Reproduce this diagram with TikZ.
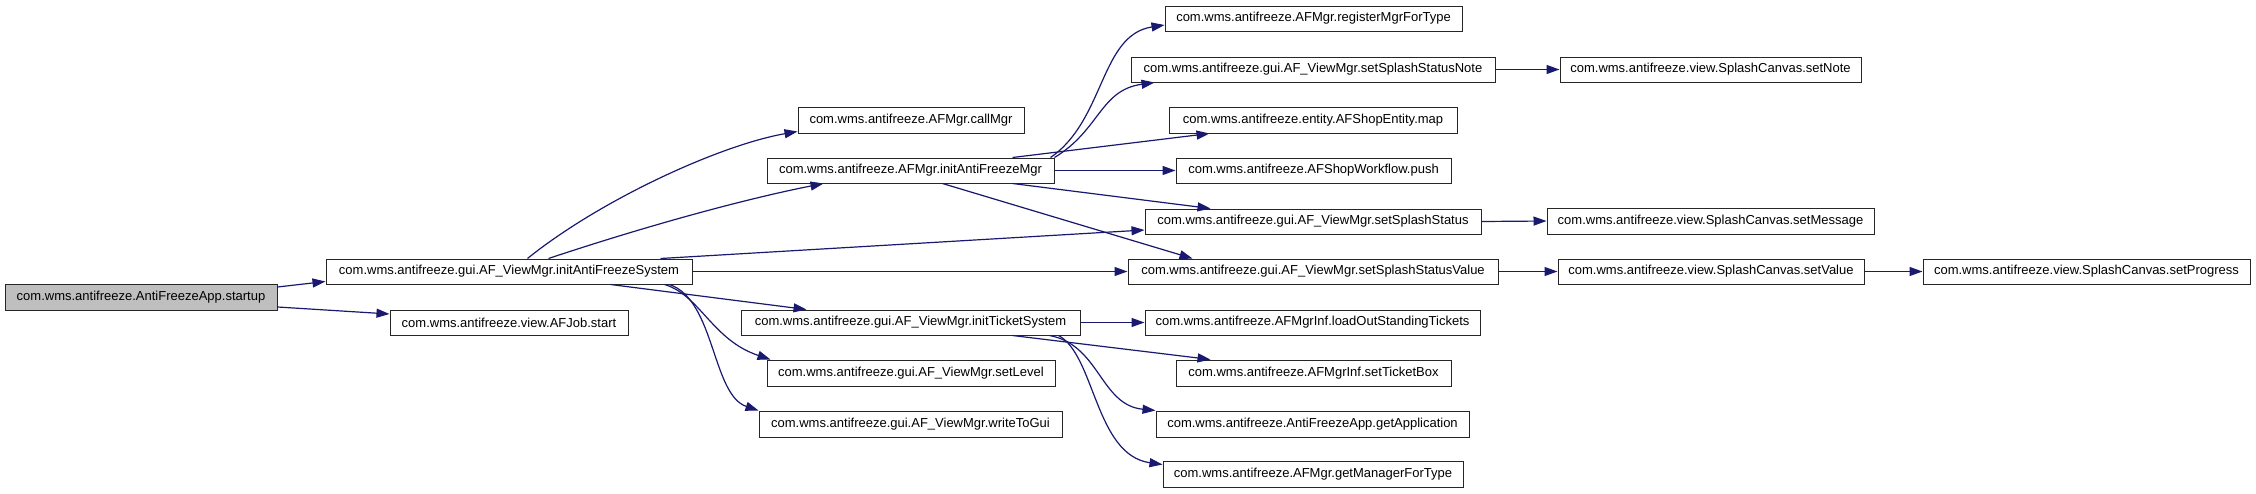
\documentclass[tikz,border=0pt]{standalone}
\usepackage{fontspec}
\setmainfont{Liberation Sans}
\usetikzlibrary{arrows.meta}
\definecolor{edgeblue}{RGB}{25,25,112}
\definecolor{rootgray}{RGB}{191,191,191}
\tikzset{
  fn/.style={draw=black!85, line width=1pt, fill=white, inner sep=0pt, minimum height=25pt,
    font=\fontsize{13}{15}\selectfont, text=black},
  root/.style={fn, fill=rootgray},
  call/.style={draw=edgeblue, line width=1.2pt, -{Triangle[length=13pt,width=9pt]}},
}
\begin{document}
\begin{tikzpicture}[x=1pt,y=-1pt]
\useasboundingbox[fill=white] (0,0) rectangle (2256,493);
% column 0
\node[root, minimum width=272pt, minimum height=26pt] (startup) at (141,297) {com.wms.antifreeze.AntiFreezeApp.startup};
% column 1
\node[fn, minimum width=366pt] (initAFS) at (509,271.5) {com.wms.antifreeze.gui.AF\_ViewMgr.initAntiFreezeSystem};
\node[fn, minimum width=238pt] (afjob) at (509,322.5) {com.wms.antifreeze.view.AFJob.start};
% column 2
\node[fn, minimum width=226pt, minimum height=26pt] (callMgr) at (911,120) {com.wms.antifreeze.AFMgr.callMgr};
\node[fn, minimum width=287pt] (initAFMgr) at (910.5,170.5) {com.wms.antifreeze.AFMgr.initAntiFreezeMgr};
\node[fn, minimum width=339pt] (initTicket) at (910.5,322.5) {com.wms.antifreeze.gui.AF\_ViewMgr.initTicketSystem};
\node[fn, minimum width=288pt, minimum height=26pt] (setLevel) at (911,373) {com.wms.antifreeze.gui.AF\_ViewMgr.setLevel};
\node[fn, minimum width=303pt, minimum height=26pt] (writeToGui) at (910.5,424) {com.wms.antifreeze.gui.AF\_ViewMgr.writeToGui};
% column 3
\node[fn, minimum width=297pt] (register) at (1313.5,18.5) {com.wms.antifreeze.AFMgr.registerMgrForType};
\node[fn, minimum width=364pt] (ssNote) at (1313,69.5) {com.wms.antifreeze.gui.AF\_ViewMgr.setSplashStatusNote};
\node[fn, minimum width=288pt, minimum height=26pt] (map) at (1313,120) {com.wms.antifreeze.entity.AFShopEntity.map};
\node[fn, minimum width=275pt] (push) at (1313.5,170.5) {com.wms.antifreeze.AFShopWorkflow.push};
\node[fn, minimum width=336pt] (ss) at (1313,221.5) {com.wms.antifreeze.gui.AF\_ViewMgr.setSplashStatus};
\node[fn, minimum width=370pt] (ssValue) at (1313,271.5) {com.wms.antifreeze.gui.AF\_ViewMgr.setSplashStatusValue};
\node[fn, minimum width=335pt] (load) at (1312.5,322.5) {com.wms.antifreeze.AFMgrInf.loadOutStandingTickets};
\node[fn, minimum width=275pt, minimum height=26pt] (ticketBox) at (1313.5,373) {com.wms.antifreeze.AFMgrInf.setTicketBox};
\node[fn, minimum width=313pt, minimum height=26pt] (getApp) at (1312.5,424) {com.wms.antifreeze.AntiFreezeApp.getApplication};
\node[fn, minimum width=300pt, minimum height=26pt] (getMgr) at (1313,474) {com.wms.antifreeze.AFMgr.getManagerForType};
% column 4
\node[fn, minimum width=301pt] (setNote) at (1710.5,69.5) {com.wms.antifreeze.view.SplashCanvas.setNote};
\node[fn, minimum width=327pt, minimum height=26pt] (setMessage) at (1710.5,221) {com.wms.antifreeze.view.SplashCanvas.setMessage};
\node[fn, minimum width=306pt] (setValue) at (1711,271.5) {com.wms.antifreeze.view.SplashCanvas.setValue};
% column 5
\node[fn, minimum width=327pt] (setProgress) at (2086.5,271.5) {com.wms.antifreeze.view.SplashCanvas.setProgress};

% edges from startup
\draw[call] ([yshift=10pt]startup.east) -- ([yshift=3pt]initAFS.south west);
\draw[call] ([yshift=-10pt]startup.east) -- ([yshift=8.5pt]afjob.west);
% edges from initAntiFreezeSystem
\draw[call] ([xshift=202pt]initAFS.north west) .. controls (600,200) and (720,145) .. ([yshift=2pt]callMgr.south west);
\draw[call] ([xshift=223pt]initAFS.north west) .. controls (640,228) and (740,200) .. ([xshift=57pt]initAFMgr.south west);
\draw[call] ([xshift=335pt]initAFS.north west) -- ([yshift=-8.5pt]ss.west);
\draw[call] (initAFS.east) -- (ssValue.west);
\draw[call] ([xshift=285pt]initAFS.south west) -- ([xshift=66pt]initTicket.north west);
\draw[call] ([xshift=339pt]initAFS.south west) .. controls (700,295) and (712,340) .. ([xshift=4pt]setLevel.north west);
\draw[call] ([xshift=344pt]initAFS.south west) .. controls (715,300) and (712,395) .. (writeToGui.north west);
% edges from initAntiFreezeMgr
\draw[call] ([xshift=-4pt]initAFMgr.north east) .. controls (1105,120) and (1100,35) .. ([yshift=-6.5pt]register.west);
\draw[call] (initAFMgr.north east) .. controls (1100,130) and (1100,90) .. ([xshift=24pt]ssNote.south west);
\draw[call] ([xshift=246pt]initAFMgr.north west) -- ([xshift=41pt]map.south west);
\draw[call] (initAFMgr.east) -- (push.west);
\draw[call] ([xshift=246pt]initAFMgr.south west) -- ([xshift=66pt]ss.north west);
\draw[call] ([xshift=176pt]initAFMgr.south west) -- ([xshift=65pt]ssValue.north west);
% splash edges
\draw[call] (ssNote.east) -- (setNote.west);
\draw[call] (ss.east) -- (setMessage.west);
\draw[call] (ssValue.east) -- (setValue.west);
\draw[call] (setValue.east) -- (setProgress.west);
% edges from initTicketSystem
\draw[call] (initTicket.east) -- (load.west);
\draw[call] ([xshift=272pt]initTicket.south west) -- ([xshift=35pt]ticketBox.north west);
\draw[call] ([xshift=309pt]initTicket.south west) .. controls (1100,345) and (1100,405) .. (getApp.north west);
\draw[call] ([xshift=318pt]initTicket.south west) .. controls (1095,355) and (1095,455) .. ([yshift=-4pt]getMgr.north west);
\end{tikzpicture}
\end{document}
